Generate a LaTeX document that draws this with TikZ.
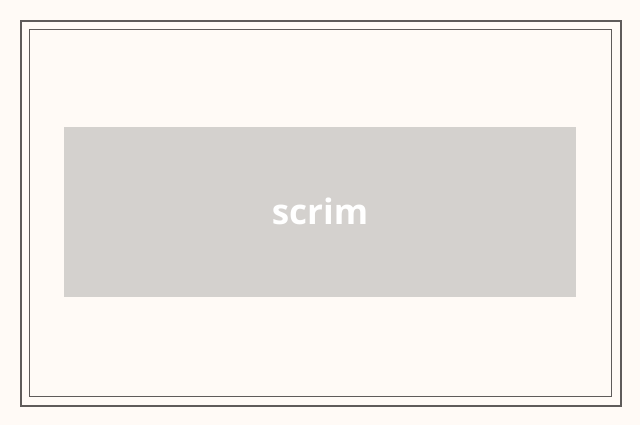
\documentclass[tikz,border=0pt]{standalone}
\usepackage{fontspec}
\newfontfamily\labelfont{Open Sans}
\usetikzlibrary{positioning}
\definecolor{paper}{HTML}{FFFAF6}
\definecolor{frameline}{HTML}{5F5B5A}
\definecolor{scrimfill}{HTML}{D4D1CE}
\tikzset{
  outerframe/.style={draw=frameline, line width=2pt},
  innerframe/.style={draw=frameline, line width=1pt},
  scrimbox/.style={fill=scrimfill, minimum width=512pt, minimum height=170pt,
                   inner sep=0pt, text=white, font=\labelfont\bfseries\fontsize{35}{42}\selectfont}
}

\begin{document}
\begin{tikzpicture}[x=1pt,y=-1pt]
  \fill[paper] (0,0) rectangle (640,425);
  \useasboundingbox (0,0) rectangle (640,425);
  \draw[outerframe] (21,21) rectangle (621,406);
  \draw[innerframe] (29.5,29.5) rectangle (611.5,396.5);
  \node[scrimbox] (scrim) at (320,212) {};
  \node[text=white, font=\labelfont\bfseries\fontsize{35}{42}\selectfont] (label) at (320,211) {scrim};
\end{tikzpicture}
\end{document}
